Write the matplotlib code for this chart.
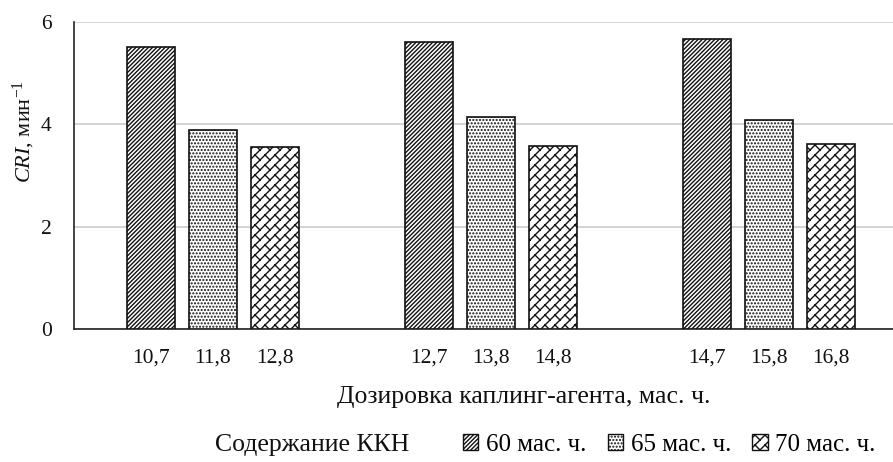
import matplotlib
matplotlib.use("Agg")
import matplotlib.pyplot as plt
import matplotlib.hatch as mhatch
from matplotlib.path import Path
import numpy as np
from matplotlib.patches import Patch

plt.rcParams['font.family'] = ['Liberation Serif', 'DejaVu Serif']
plt.rcParams['mathtext.fontset'] = 'custom'
plt.rcParams['mathtext.rm'] = 'Liberation Serif'
plt.rcParams['mathtext.it'] = 'Liberation Serif:italic'
plt.rcParams['hatch.color'] = '#2a2a2a'
plt.rcParams['hatch.linewidth'] = 1.0


class BrickHatch(mhatch.HatchPatternBase):
    """Diagonal brick pattern, triggered by 'O'."""
    def __init__(self, hatch, density):
        n = hatch.count('O') * 5
        if n % 2:
            n += 1
        self.segs = []
        if n:
            m = n
            for k in range(-n, n):
                c = k / n
                self.segs.append(((0.0, c), (1.0, 1.0 + c)))
                off = -k / (2 * n) + (k % 2) / (2 * m)
                for j in range(-m, 2 * m + 1):
                    t = j / m + off
                    self.segs.append(((t, t + c),
                                      (t - 1 / (2 * n), t + c + 1 / (2 * n))))
        self.num_vertices = len(self.segs) * 2

    def set_vertices_and_codes(self, vertices, codes):
        for i, (a, b) in enumerate(self.segs):
            vertices[2 * i] = a
            vertices[2 * i + 1] = b
            codes[2 * i] = Path.MOVETO
            codes[2 * i + 1] = Path.LINETO


mhatch._hatch_types = [h for h in mhatch._hatch_types
                       if h is not mhatch.LargeCircles] + [BrickHatch]

groups = ["г1", "г2", "г3"]
series_labels = ["60 мас. ч.", "65 мас. ч.", "70 мас. ч."]
values_60 = [5.52, 5.61, 5.66]
values_65 = [3.88, 4.15, 4.09]
values_70 = [3.55, 3.57, 3.61]
bar_tick_labels = [["10,7", "11,8", "12,8"],
                   ["12,7", "13,8", "14,8"],
                   ["14,7", "15,8", "16,8"]]
hatches = ['////////', '.....', 'OO']

fig = plt.figure(figsize=(8.93, 4.62), dpi=100)
ax = fig.add_axes([74/893, 1-329/462, 834/893, (329-22)/462])

x = np.arange(len(groups))
width = 0.176
step = 0.223
series = [values_60, values_65, values_70]
tick_pos, tick_lab = [], []
for i, (vals, h, lab) in enumerate(zip(series, hatches, series_labels)):
    pos = x + (i - 1) * step
    ax.bar(pos, vals, width, facecolor='white', edgecolor='#111111',
           linewidth=1.2, hatch=h, label=lab, zorder=3)
for g in range(len(groups)):
    for i in range(3):
        tick_pos.append(x[g] + (i - 1) * step)
        tick_lab.append(bar_tick_labels[g][i])

ax.set_xlim(-0.5, 2.5)
ax.set_ylim(0, 6)
ax.set_yticks([0, 2, 4, 6])
ax.set_xticks(tick_pos)
ax.set_xticklabels(tick_lab)
ax.tick_params(axis='both', length=0, labelsize=15.5, colors='#111111')
ax.tick_params(axis='x', pad=14)
ax.tick_params(axis='y', pad=16)
ax.grid(axis='y', color='#cccccc', linewidth=1.2, zorder=0)
for s in ['top', 'right']:
    ax.spines[s].set_visible(False)
for s in ['left', 'bottom']:
    ax.spines[s].set_color('#222222')
    ax.spines[s].set_linewidth(1.2)

fig.text(24/893, 1-132/462, r"$\mathit{CRI}$, мин$^{-1}$", rotation=90,
         ha='center', va='center', fontsize=16, color='#111111')
fig.text(524/893, 1-397/462, "Дозировка каплинг-агента, мас. ч.",
         ha='center', va='center', fontsize=18.5, color='#111111')
fig.text(215/893, 1-445/462, "Содержание ККН",
         ha='left', va='center', fontsize=18.5, color='#111111')

handles = [Patch(facecolor='white', edgecolor='#111111', linewidth=1.0,
                 hatch=h, label=l)
           for h, l in zip(hatches, series_labels)]
fig.legend(handles=handles, ncol=3, loc='center left',
           bbox_to_anchor=(463/893, 1-445/462), frameon=False,
           fontsize=18, handlelength=0.62, handleheight=0.62,
           handletextpad=0.3, columnspacing=0.85, borderaxespad=0, borderpad=0)

fig.savefig("out.png", dpi=100)
